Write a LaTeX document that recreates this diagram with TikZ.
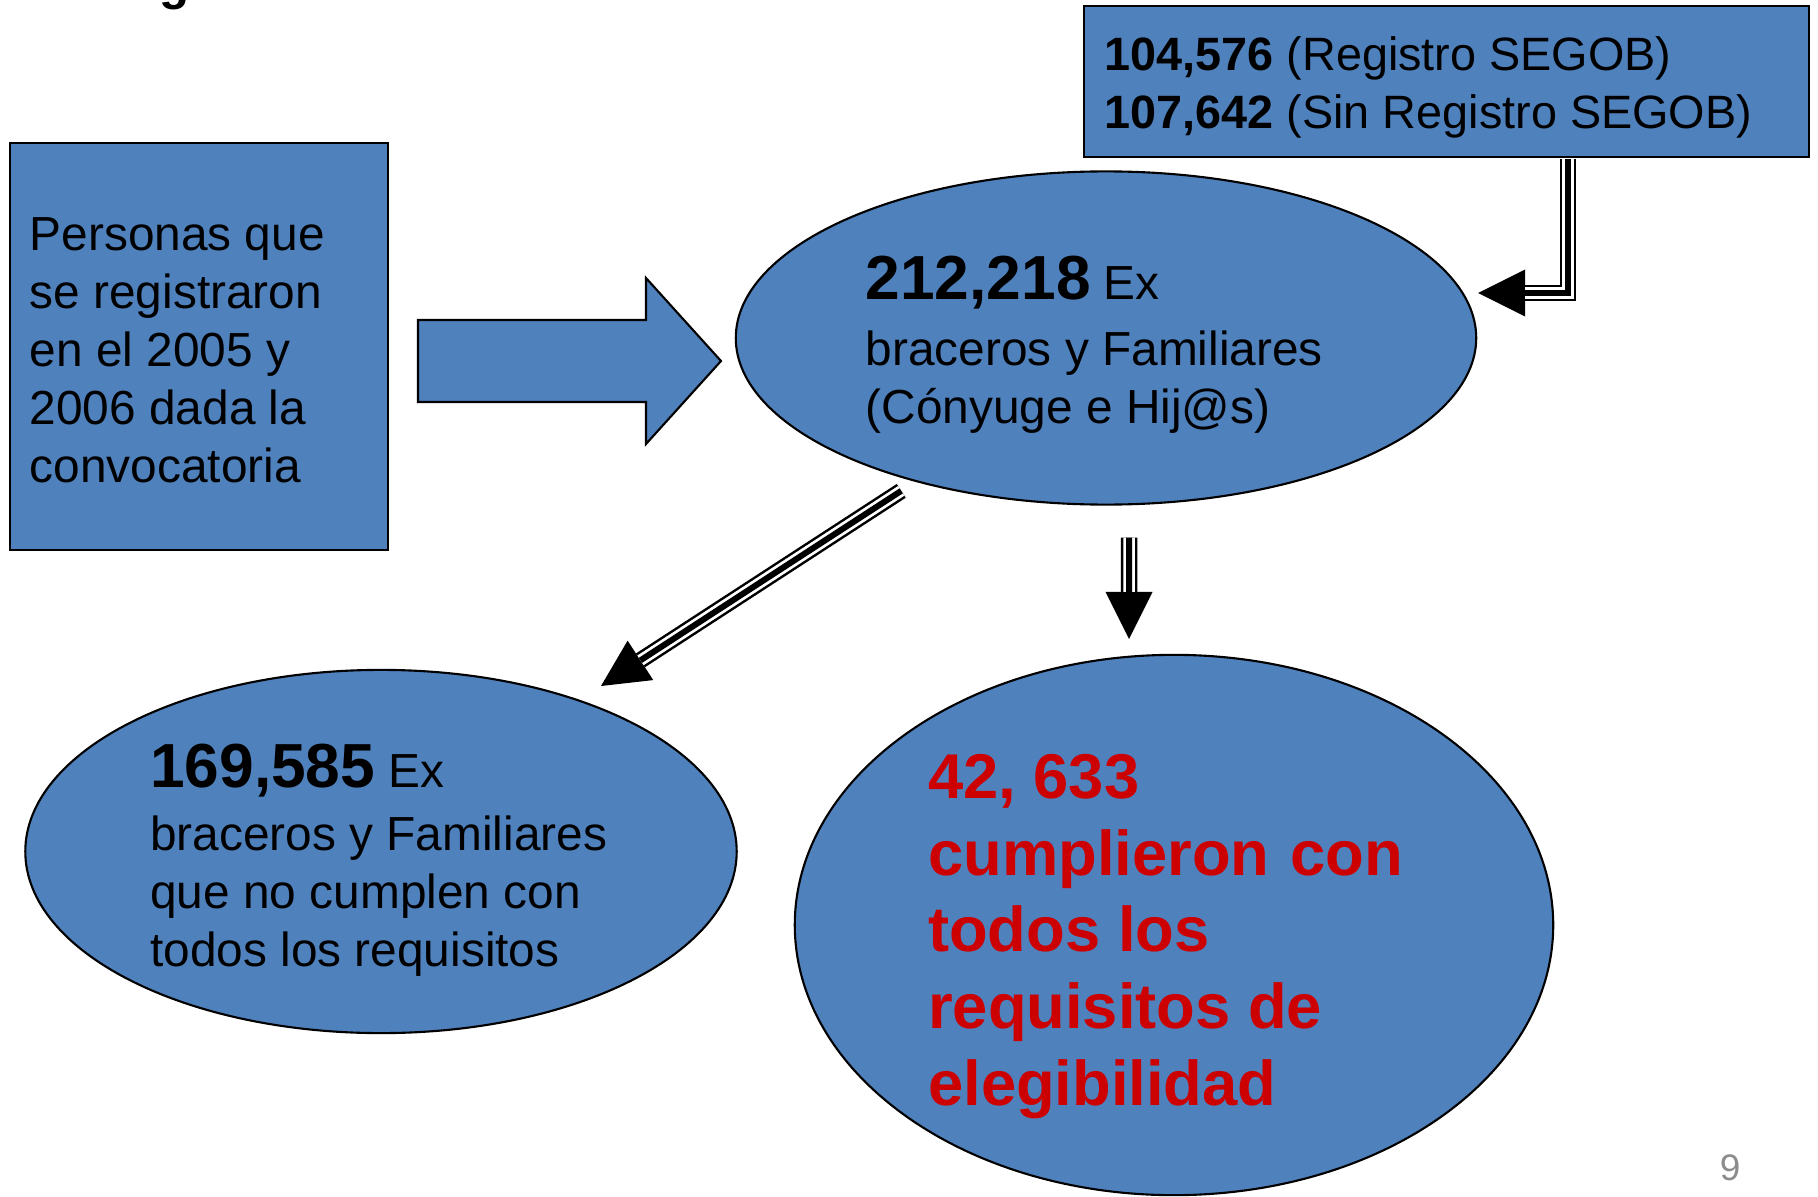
\documentclass[tikz,border=0pt]{standalone}
\usepackage{fontspec}
\setmainfont{Liberation Sans}
\usetikzlibrary{shapes.geometric, arrows.meta, positioning}
\definecolor{azul}{RGB}{79,129,189}
\definecolor{rojo}{RGB}{204,0,0}
\definecolor{gris}{RGB}{140,140,140}
\newcommand{\numgrande}{\fontsize{17.7}{21}\selectfont\bfseries}
\tikzset{
    caja/.style = {rectangle, draw=black, line width=0.6pt, fill=azul},
    elipse/.style = {ellipse, draw=black, line width=0.6pt, fill=azul, inner sep=0pt},
    texto/.style = {anchor=west, inner sep=0pt, align=left, font=\fontsize{13.6}{16.5}\selectfont},
    rojotxt/.style = {texto, text=rojo, font=\fontsize{18}{21.8}\selectfont\bfseries},
    bloque/.style = {draw=black, line width=0.6pt, fill=azul, line join=miter},
    tripleline/.style = {line width=1.65mm, -{Triangle[length=4.7mm, width=4.7mm, line width=0pt]},
        postaction={draw, white, line width=1.15mm, arrows=-, shorten >=4.7mm},
        postaction={draw, black, line width=0.6mm, arrows=-, shorten >=4.7mm}},
    numpag/.style = {text=gris, font=\fontsize{10.5}{12}\selectfont, inner sep=0pt}
}
\begin{document}
\begin{tikzpicture}[x=0.01cm, y=-0.01cm]
    \useasboundingbox (0,0) rectangle (1818,1197);
    % Nodos
    \node (titulo) [anchor=base, inner sep=0pt, font=\fontsize{14}{16}\selectfont\bfseries] at (175,0) {g};
    \node (registro) [caja, minimum width=3.78cm, minimum height=4.07cm] at (199,346.5) {};
    \node (registrotxt) [texto] at (29,350) {Personas que\\ se registraron\\ en el 2005 y\\ 2006 dada la\\ convocatoria};
    \node (segob) [caja, minimum width=7.25cm, minimum height=1.51cm] at (1446.5,81.5) {};
    \node (segobtxt) [texto, font=\fontsize{13.3}{16.5}\selectfont] at (1104,87.5) {\textbf{104,576} (Registro SEGOB)\\ \textbf{107,642} (Sin Registro SEGOB)};
    \node (censo) [elipse, minimum width=7.40cm, minimum height=3.33cm] at (1106,338) {};
    \node (censotxt) [texto] at (865,345) {{\numgrande 212,218} Ex\\[2.3pt] braceros y Familiares\\ (Cónyuge e Hij@s)};
    \node (nocumplen) [elipse, minimum width=7.11cm, minimum height=3.63cm] at (381,851.5) {};
    \node (nocumplentxt) [texto] at (149.5,860.5) {{\numgrande 169,585} Ex\\[1.4pt] braceros y Familiares\\ que no cumplen con\\ todos los requisitos};
    \node (cumplen) [elipse, minimum width=7.58cm, minimum height=5.40cm] at (1174,925) {};
    \node (cumplentxt) [rojotxt] at (927.5,936.5) {42, 633\\ cumplieron\hspace{0.035cm} con\\ todos los\\ requisitos de\\ elegibilidad};
    \node (pagina) [numpag] at (1730,1168) {9};

    % Flecha de bloque
    \draw [bloque] (418,320) -- (646,320) -- (646,278) -- (721,361) -- (646,444) -- (646,402) -- (418,402) -- cycle;

    %Flechas
    \coordinate (entrada) at (1478,293);
    \coordinate (punta1) at (601,686);
    \coordinate (punta2) at (1129,639);
    \draw [tripleline] ([shift={(1.215cm,-0.01cm)}]segob.south) |- (entrada);
    \draw [tripleline, shorten <=0.166cm] (censo.217.3) -- (punta1);
    \draw [tripleline] ([shift={(0.23cm,-0.32cm)}]censo.south) -- (punta2);
\end{tikzpicture}
\end{document}
